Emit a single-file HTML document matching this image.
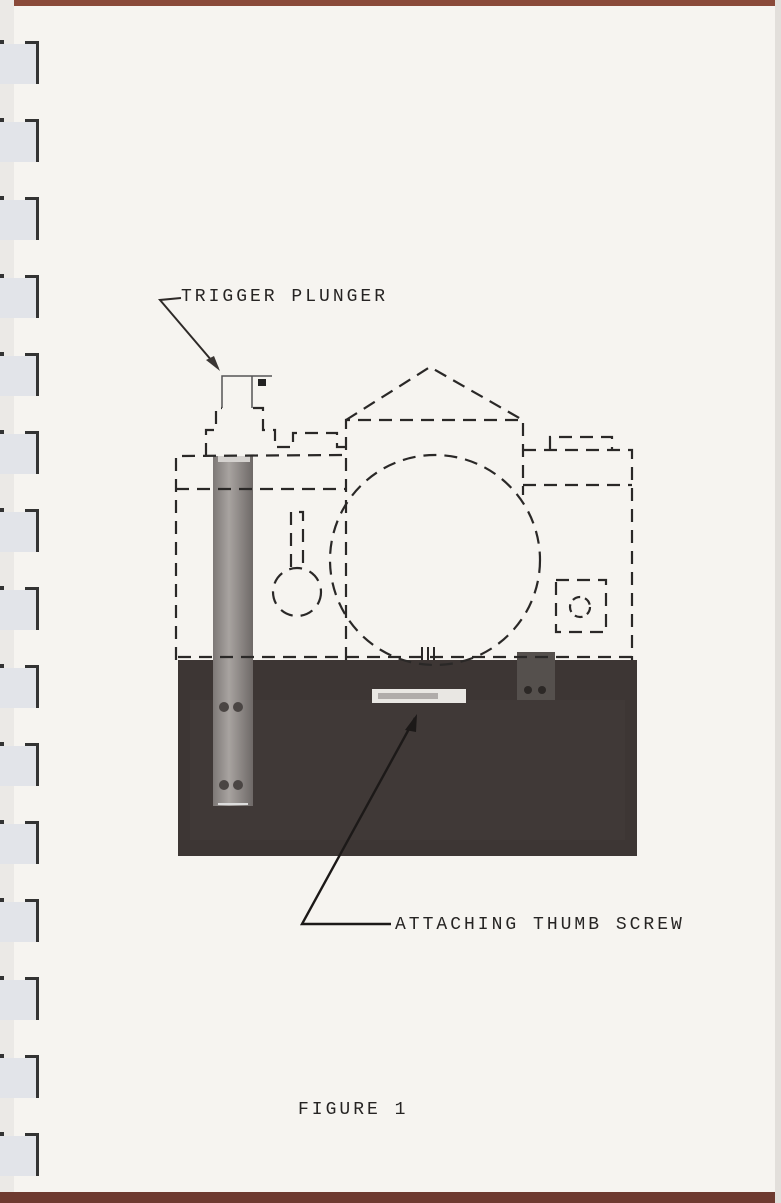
<!DOCTYPE html>
<html><head><meta charset="utf-8"><style>
html,body{margin:0;padding:0;}
body{width:781px;height:1203px;background:#f6f4f0;position:relative;overflow:hidden;font-family:"Liberation Mono",monospace;}
.t{position:absolute;font-size:18px;letter-spacing:3px;color:#262423;white-space:nowrap;}
</style></head><body>
<svg width="781" height="1203" style="position:absolute;left:0;top:0">
<defs>
<linearGradient id="g" x1="0" x2="1"><stop offset="0" stop-color="#7d7876"/><stop offset=".4" stop-color="#a8a3a0"/><stop offset="1" stop-color="#6e6967"/></linearGradient>
</defs>
<rect x="0" y="0" width="781" height="6" fill="#8a4a3a"/>
<rect x="0" y="0" width="14" height="1203" fill="#ebe9e6"/>
<rect x="0" y="1192" width="781" height="11" fill="#6e3a30"/>
<rect x="775" y="0" width="6" height="1203" fill="#e2dfdb"/>
<!-- camera -->
<rect x="178" y="660" width="459" height="196" fill="#3d3634"/>
<rect x="190" y="700" width="435" height="140" fill="#433c3a" opacity=".5"/>
<rect x="517" y="652" width="38" height="48" fill="#55504d"/>
<circle cx="528" cy="690" r="4" fill="#2c2826"/><circle cx="542" cy="690" r="4" fill="#2c2826"/>
<rect x="213" y="456" width="40" height="350" fill="url(#g)"/>
<rect x="218" y="456" width="32" height="6" fill="#d5d2cf"/>
<line x1="218" y1="804" x2="248" y2="804" stroke="#ddd" stroke-width="2"/>
<circle cx="224" cy="707" r="5" fill="#4a4543"/><circle cx="238" cy="707" r="5" fill="#4a4543"/>
<circle cx="224" cy="785" r="5" fill="#4a4543"/><circle cx="238" cy="785" r="5" fill="#4a4543"/>
<rect x="372" y="689" width="94" height="14" fill="#e9e7e3"/>
<rect x="378" y="693" width="60" height="6" fill="#b0acaa"/>
<g fill="none" stroke="#2a2827" stroke-width="2.2" stroke-dasharray="13 8">
<polyline points="346,420 430,367 521,419"/>
<polyline points="346,660 346,420 523,420 523,495"/>
<polyline points="176,660 176,456 345,455"/>
<line x1="176" y1="489" x2="345" y2="489"/>
<polyline points="206,456 206,430 216,430 216,408 222,408"/>
<polyline points="253,408 263,408 263,430 275,430 275,447 293,447 293,433 337,433 337,447 346,447"/>
<polyline points="523,450 632,450 632,660"/>
<line x1="523" y1="485" x2="632" y2="485"/>
<polyline points="550,449 550,437 612,437 612,449"/>
<line x1="178" y1="657" x2="632" y2="657"/>
<circle cx="435" cy="560" r="105"/>
<circle cx="297" cy="592" r="24"/>
<polyline points="291,567 291,512 303,512 303,567"/>
<rect x="556" y="580" width="50" height="52"/>
<circle cx="580" cy="607" r="10" stroke-dasharray="8 5"/>
</g>
<polyline points="222,408 222,376 272,376" fill="none" stroke="#555" stroke-width="1.5"/>
<polyline points="252,376 252,408" fill="none" stroke="#555" stroke-width="1.5"/>
<rect x="258" y="379" width="8" height="7" fill="#222"/>
<g stroke="#2a2827" stroke-width="2"><line x1="422" y1="647" x2="422" y2="660"/><line x1="428" y1="647" x2="428" y2="660"/><line x1="434" y1="647" x2="434" y2="660"/></g>
<!-- arrows -->
<g fill="none" stroke="#2e2a28" stroke-width="2">
<polyline points="181,298 160,300 218,368"/>
</g>
<polyline points="391,924 302,924 415,718" fill="none" stroke="#1c1918" stroke-width="2.4"/>
<polygon points="220,371 206,360 214,356" fill="#3a3634"/>
<polygon points="417,714 405,730 416,732" fill="#1c1918"/>
</svg>
<svg width="45" height="1203" style="position:absolute;left:0;top:0">
<defs><g id="tb"><rect x="0" y="44" width="39" height="40" fill="#e2e4e9"/><rect x="36" y="42" width="3" height="42" fill="#333"/><rect x="25" y="41" width="14" height="3" fill="#333"/><rect x="0" y="40" width="4" height="4" fill="#333"/></g></defs>
<use href="#tb"/>
<use href="#tb" y="78"/><use href="#tb" y="156"/><use href="#tb" y="234"/><use href="#tb" y="312"/>
<use href="#tb" y="390"/><use href="#tb" y="468"/><use href="#tb" y="546"/><use href="#tb" y="624"/>
<use href="#tb" y="702"/><use href="#tb" y="780"/><use href="#tb" y="858"/><use href="#tb" y="936"/>
<use href="#tb" y="1014"/><use href="#tb" y="1092"/>
</svg>
<div class="t" style="left:181px;top:287px;">TRIGGER PLUNGER</div>
<div class="t" style="left:395px;top:915px;">ATTACHING THUMB SCREW</div>
<div class="t" style="left:298px;top:1100px;">FIGURE 1</div>
</body></html>
